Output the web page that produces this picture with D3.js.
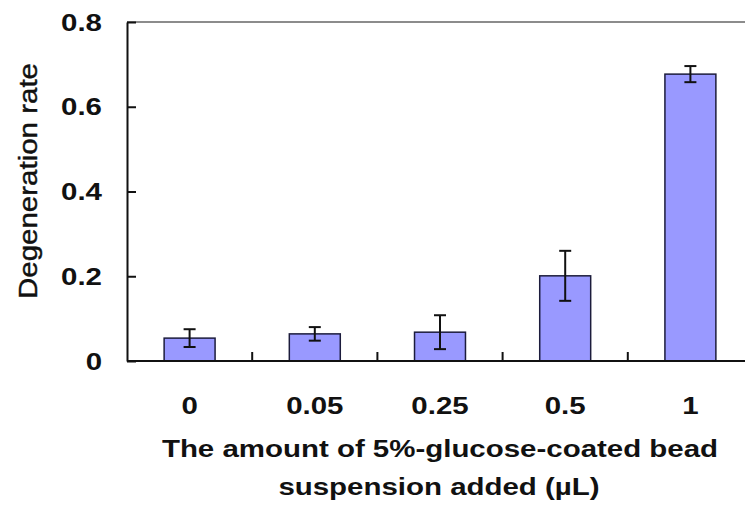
<!DOCTYPE html>
<html>
<head>
<meta charset="utf-8">
<script src="https://cdn.jsdelivr.net/npm/d3@7"></script>
<style>
  body { margin: 0; background: #fff; }
  text { font-family: "Liberation Sans", Arial, sans-serif; fill: #111; }
</style>
</head>
<body>
<svg id="chart" width="745" height="505"></svg>
<script>
// data
const categories = ["0", "0.05", "0.25", "0.5", "1"];
const rates = [0.054, 0.064, 0.068, 0.201, 0.677];
const errs = [0.021, 0.016, 0.040, 0.059, 0.019];
const yTicks = [0, 0.2, 0.4, 0.6, 0.8];

const data = categories.map((c, i) => ({ cat: c, v: rates[i], e: errs[i] }));

const plotLeft = 127, plotRight = 753, plotTop = 22, plotBottom = 361;
const widen = 1.28; // the source picture's text is stretched sideways

const svg = d3.select("#chart");

// stretch glyphs horizontally, keeping the anchor
function stretch(sel, k) {
    sel.each(function() {
        let w = this.getComputedTextLength();
        d3.select(this).attr("textLength", w * k).attr("lengthAdjust", "spacingAndGlyphs");
    });
}

let y = d3.scaleLinear().domain([0, 0.8]).range([plotBottom, plotTop]);

let x = d3.scaleBand()
    .domain(categories)
    .range([plotLeft, plotRight])
    .paddingInner(0.593)
    .paddingOuter(0.2965);

const step = x.step();

// top frame line
svg.append("line")
    .attr("x1", plotLeft).attr("x2", plotRight)
    .attr("y1", plotTop).attr("y2", plotTop)
    .attr("stroke", "#8c8c8c").attr("stroke-width", 2);

// bars
svg.append("g")
    .selectAll("rect").data(data)
  .join("rect")
    .attr("x", d => x(d.cat))
    .attr("y", d => y(d.v))
    .attr("width", x.bandwidth())
    .attr("height", d => y(0) - y(d.v))
    .attr("fill", "#9999ff")
    .attr("stroke", "#1c1c3c")
    .attr("stroke-width", 1.5);

// error bars
let eb = svg.append("g").attr("stroke", "#111").attr("stroke-width", 2)
    .selectAll("g").data(data).join("g")
    .attr("transform", d => `translate(${x(d.cat) + x.bandwidth() / 2},0)`);
eb.append("line")
    .attr("y1", d => y(d.v + d.e)).attr("y2", d => y(d.v - d.e));
eb.append("line")
    .attr("x1", -6).attr("x2", 6)
    .attr("y1", d => y(d.v + d.e)).attr("y2", d => y(d.v + d.e));
eb.append("line")
    .attr("x1", -6).attr("x2", 6)
    .attr("y1", d => y(d.v - d.e)).attr("y2", d => y(d.v - d.e));

// y axis, ticks pointing inward
let yAxis = svg.append("g")
    .attr("transform", `translate(${plotLeft},0)`)
    .call(d3.axisRight(y).tickValues(yTicks).tickSize(9).tickSizeOuter(0).tickFormat(d3.format("")));
yAxis.select(".domain").attr("stroke", "#111").attr("stroke-width", 2);
yAxis.selectAll(".tick line").attr("stroke", "#111").attr("stroke-width", 2);
yAxis.selectAll(".tick text")
    .attr("x", -25).attr("dy", "0.35em")
    .attr("text-anchor", "end")
    .attr("fill", "#111")
    .style("font-size", "23px").style("font-weight", "bold")
    .call(stretch, widen);

// x axis: ticks at category boundaries pointing up
svg.append("line")
    .attr("x1", plotLeft).attr("x2", plotRight)
    .attr("y1", plotBottom).attr("y2", plotBottom)
    .attr("stroke", "#111").attr("stroke-width", 2);
svg.append("g")
    .selectAll("line").data(categories.slice(1))
  .join("line")
    .attr("x1", d => x(d) - x.paddingOuter() * step)
    .attr("x2", d => x(d) - x.paddingOuter() * step)
    .attr("y1", plotBottom).attr("y2", plotBottom - 9)
    .attr("stroke", "#111").attr("stroke-width", 2);

svg.append("g")
    .selectAll("text").data(categories)
  .join("text")
    .attr("x", d => x(d) + x.bandwidth() / 2)
    .attr("y", 414)
    .attr("text-anchor", "middle")
    .style("font-size", "23px").style("font-weight", "bold")
    .text(d => d)
    .call(stretch, widen);

// axis titles
svg.append("text")
    .attr("x", 440).attr("y", 457)
    .attr("text-anchor", "middle")
    .style("font-size", "23px").style("font-weight", "bold")
    .text("The amount of 5%-glucose-coated bead")
    .call(stretch, widen);
svg.append("text")
    .attr("x", 439).attr("y", 495)
    .attr("text-anchor", "middle")
    .style("font-size", "23px").style("font-weight", "bold")
    .text("suspension added (µL)")
    .call(stretch, widen);

svg.append("text")
    .attr("transform", "translate(37,181) rotate(-90)")
    .attr("text-anchor", "middle")
    .attr("textLength", 236).attr("lengthAdjust", "spacingAndGlyphs")
    .style("font-size", "26px")
    .style("stroke", "#111").style("stroke-width", 0.4)
    .text("Degeneration rate");
</script>
</body>
</html>
